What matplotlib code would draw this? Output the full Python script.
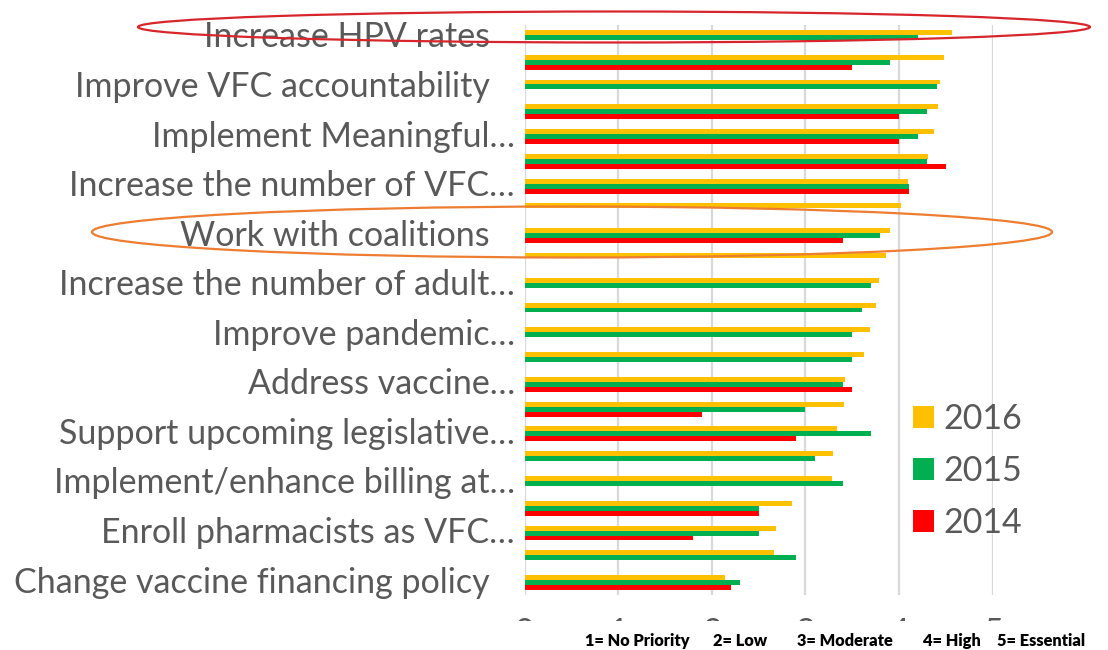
import numpy as np
import matplotlib
matplotlib.use("Agg")
import matplotlib.pyplot as plt
from matplotlib.patches import Ellipse, Rectangle

nan = np.nan

# categories top to bottom (Excel only shows every other label)
labels = ["Increase HPV rates", "",
          "Improve VFC accountability", "",
          "Implement Meaningful\u2026", "",
          "Increase the number of VFC\u2026", "",
          "Work with coalitions", "",
          "Increase the number of adult\u2026", "",
          "Improve pandemic\u2026", "",
          "Address vaccine\u2026", "",
          "Support upcoming legislative\u2026", "",
          "Implement/enhance billing at\u2026", "",
          "Enroll pharmacists as VFC\u2026", "",
          "Change vaccine financing policy"]

v2016 = [4.56, 4.48, 4.44, 4.42, 4.37, 4.31, 4.09, 4.02, 3.90, 3.86, 3.78, 3.75,
         3.69, 3.63, 3.42, 3.41, 3.34, 3.29, 3.28, 2.86, 2.69, 2.66, 2.14]
v2015 = [4.20, 3.90, 4.40, 4.30, 4.20, 4.30, 4.10, nan, 3.80, nan, 3.70, 3.60,
         3.50, 3.50, 3.40, 3.00, 3.70, 3.10, 3.40, 2.50, 2.50, 2.90, 2.30]
v2014 = [nan, 3.50, nan, 4.00, 4.00, 4.50, 4.10, nan, 3.40, nan, nan, nan,
         nan, nan, 3.50, 1.90, 2.90, nan, nan, 2.50, 1.80, nan, 2.20]

footnote = ["1= No Priority", "2= Low", "3= Moderate", "4= High", "5= Essential"]

W, H = 1108, 650
fig = plt.figure(figsize=(W / 100, H / 100), dpi=100)
ax = fig.add_axes([524.5 / W, 1 - 595 / H, (992.8 - 524.5) / W, 570 / H])

gray = "#595959"
font = "Lato"
big = 24.5

y = np.arange(len(labels))
h = 0.2
b16 = ax.barh(y - h, v2016, height=h, color="#FFC000", label="2016", zorder=2)
b15 = ax.barh(y, v2015, height=h, color="#00B050", label="2015", zorder=2)
b14 = ax.barh(y + h, v2014, height=h, color="#FF0000", label="2014", zorder=2)

ax.set_xlim(0, 5)
ax.set_ylim(len(labels) - 0.5, -0.5)
ax.set_xticks(range(6))
ax.set_xticklabels([str(i) for i in range(6)], fontsize=big, color=gray, family=font)
ax.tick_params(axis="x", length=0, pad=16)
ax.set_yticks([])
ax.grid(axis="x", color="#D9D9D9", lw=1.6, zorder=0)
for s in ax.spines.values():
    s.set_visible(False)

# category labels
axw = 992.8 - 524.5
for i, lab in enumerate(labels):
    if not lab:
        continue
    xr = -9.5 / axw if lab.endswith("\u2026") else -34.5 / axw
    ax.text(xr, i, lab, transform=ax.get_yaxis_transform(), ha="right", va="center",
            fontsize=big, color=gray, family=font)

leg = ax.legend(handles=[b16, b15, b14], loc="center left",
                bbox_to_anchor=(913 / W, 1 - 471 / H), bbox_transform=fig.transFigure,
                frameon=False, fontsize=big, borderpad=0, borderaxespad=0,
                handlelength=0.62, handleheight=0.62, handletextpad=0.28, labelspacing=0.6)
for t in leg.get_texts():
    t.set_color(gray)
    t.set_family(font)

# white strip covering the tick labels, with the scale note
fig.add_artist(Rectangle((0, 0), 1, (H - 621) / H, transform=fig.transFigure,
                         facecolor="white", edgecolor="none", zorder=3))
note_x = [585, 713, 797, 923, 997]
for xx, t in zip(note_x, footnote):
    fig.text(xx / W, 1 - 641 / H, t, fontsize=11.8, fontweight="heavy", family=font,
             color="black", va="center", zorder=4)

# highlight ellipses
fig.add_artist(Ellipse((614 / W, 1 - 27 / H), 952 / W, 31 / H, transform=fig.transFigure,
                       fill=False, edgecolor="#D7262B", lw=1.6, zorder=5))
fig.add_artist(Ellipse((572 / W, 1 - 232 / H), 960 / W, 51 / H, transform=fig.transFigure,
                       fill=False, edgecolor="#ED7D31", lw=1.6, zorder=5))

fig.savefig("out.png", dpi=100)
